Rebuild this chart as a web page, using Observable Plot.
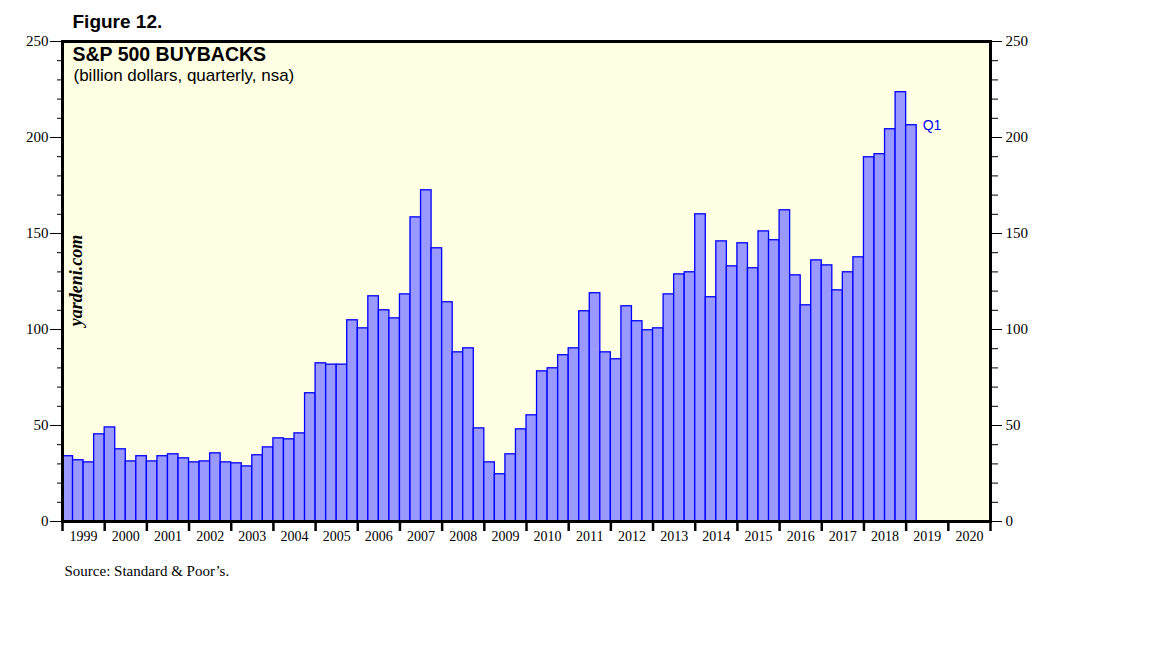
<!DOCTYPE html>
<html>
<head>
<meta charset="utf-8">
<script src="https://cdn.jsdelivr.net/npm/d3@7"></script>
<script src="https://cdn.jsdelivr.net/npm/@observablehq/plot@0.6"></script>
<style>
  html, body { margin: 0; padding: 0; background: white; }
</style>
</head>
<body>
<div id="chart"></div>
<script>
// S&P 500 buybacks, billion dollars, quarterly, from 1999 Q1 to 2019 Q1
const startYear = 1999;
const buybacks = [
  34.0, 31.9, 30.8, 45.4,   // 1999
  49.0, 37.6, 31.3, 34.0,   // 2000
  31.3, 34.0, 35.0, 32.9,   // 2001
  30.8, 31.3, 35.5, 30.8,   // 2002
  30.3, 28.7, 34.5, 38.6,   // 2003
  43.3, 42.8, 45.9, 66.8,   // 2004
  82.4, 81.7, 81.7, 104.8,  // 2005
  100.6, 117.3, 110.0, 105.8, // 2006
  118.3, 158.4, 172.5, 142.3, // 2007
  114.2, 88.1, 90.2, 48.5,  // 2008
  30.8, 24.6, 35.0, 48.0,   // 2009
  55.3, 78.2, 79.8, 86.6,   // 2010
  90.2, 109.5, 118.9, 88.1, // 2011
  84.5, 112.1, 104.3, 99.6, // 2012
  100.6, 118.3, 128.7, 129.8, // 2013
  160.0, 116.8, 145.9, 132.9, // 2014
  144.9, 131.9, 151.1, 146.5, // 2015
  162.1, 128.2, 112.6, 136.0, // 2016
  133.4, 120.4, 129.8, 137.6, // 2017
  189.7, 191.3, 204.3, 223.6, // 2018
  206.4                       // 2019
];
const yearLabels = [1999, 2000, 2001, 2002, 2003, 2004, 2005, 2006, 2007, 2008, 2009,
  2010, 2011, 2012, 2013, 2014, 2015, 2016, 2017, 2018, 2019, 2020];
const yMajorTicks = [0, 50, 100, 150, 200, 250];
const yMinorTicks = [0, 10, 20, 30, 40, 50, 60, 70, 80, 90, 100, 110, 120, 130, 140, 150,
  160, 170, 180, 190, 200, 210, 220, 230, 240, 250];
const lastLabel = "Q1";

const data = buybacks.map((v, i) => ({t: startYear + i / 4, v}));
const last = data[data.length - 1];
const yearEdges = [...yearLabels, yearLabels[yearLabels.length - 1] + 1];

const serif = "Liberation Serif, Times New Roman, serif";
const sans = "Liberation Sans, Arial, sans-serif";

const chart = Plot.plot({
  width: 1152,
  height: 648,
  marginLeft: 62,
  marginRight: 162,
  marginTop: 41,
  marginBottom: 127,
  style: {fontFamily: serif, fontSize: "14px", color: "black", background: "white", overflow: "visible"},
  x: {domain: [yearEdges[0], yearEdges[yearEdges.length - 1]]},
  y: {domain: [0, 250]},
  marks: [
    Plot.frame({fill: "#FFFFE3", stroke: null}),
    Plot.rectY(data, {x1: "t", x2: d => d.t + 0.25, y: "v", fill: "#9999FF", stroke: "#0000FF", strokeWidth: 1.3}),
    // left axis ticks
    Plot.axisY({anchor: "left", ticks: yMinorTicks, tickSize: 5, tickFormat: () => "", label: null}),
    Plot.axisY({anchor: "left", ticks: yMajorTicks, tickSize: 12, tickFormat: () => "", label: null}),
    // right axis ticks
    Plot.axisY({anchor: "right", ticks: yMinorTicks, tickSize: 7, tickFormat: () => "", label: null}),
    Plot.axisY({anchor: "right", ticks: yMajorTicks, tickSize: 11, tickFormat: () => "", label: null}),
    // y tick labels as text marks
    Plot.text(yMajorTicks, {y: d => d, text: d => String(d), frameAnchor: "left", dx: -14, textAnchor: "end", lineAnchor: "middle", fontFamily: serif, fontSize: 15}),
    Plot.text(yMajorTicks, {y: d => d, text: d => String(d), frameAnchor: "right", dx: 15, textAnchor: "start", lineAnchor: "middle", fontFamily: serif, fontSize: 15}),
    // x axis: year boundaries and centered labels
    Plot.axisX({ticks: yearEdges, tickSize: 10, strokeWidth: 2.5, tickFormat: () => "", label: null}),
    Plot.text(yearLabels, {x: d => d + 0.5, text: d => String(d), frameAnchor: "bottom", dy: 15, lineAnchor: "middle", fontFamily: serif, fontSize: 14}),
    Plot.frame({stroke: "black", strokeWidth: 3}),
    // annotations
    Plot.text([last], {x: d => d.t + 0.25, y: "v", text: () => lastLabel, dx: 6, textAnchor: "start", fill: "#0000FF", fontFamily: sans, fontSize: 14}),
    Plot.text(["Figure 12."], {frameAnchor: "top-left", dx: 10, dy: -20, lineAnchor: "middle", textAnchor: "start", fontFamily: sans, fontWeight: "bold", fontSize: 19}),
    Plot.text(["S&P 500 BUYBACKS"], {frameAnchor: "top-left", dx: 10, dy: 13, lineAnchor: "middle", textAnchor: "start", fontFamily: sans, fontWeight: "bold", fontSize: 19.5}),
    Plot.text(["(billion dollars, quarterly, nsa)"], {frameAnchor: "top-left", dx: 11, dy: 34, lineAnchor: "middle", textAnchor: "start", fontFamily: sans, fontSize: 17}),
    Plot.text(["yardeni.com"], {frameAnchor: "left", dx: 14, dy: -1, rotate: -90, lineAnchor: "middle", textAnchor: "middle", fontFamily: serif, fontWeight: "bold", fontStyle: "italic", fontSize: 18}),
    Plot.text(["Source: Standard & Poor’s."], {frameAnchor: "bottom-left", dx: 2, dy: 50, lineAnchor: "middle", textAnchor: "start", fontFamily: serif, fontSize: 15})
  ]
});
document.getElementById("chart").appendChild(chart);
</script>
</body>
</html>
